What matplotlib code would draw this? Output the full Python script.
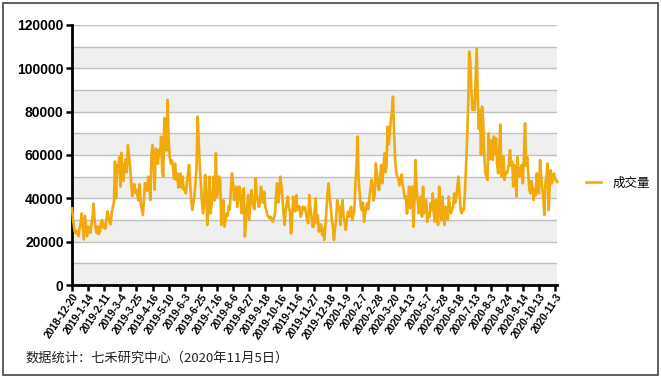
import numpy as np
import matplotlib
matplotlib.use("Agg")
import matplotlib.pyplot as plt
from matplotlib.patches import Rectangle

# daily volume (thousand lots), trading days 2018-12-20 .. 2019-12-31
vol_2019 = [35.4, 30.0, 26.0, 24.0, 25.0, 23.5, 22.5, 26.0, 28.5, 33.0, 27.0, 21.0, 32.0, 27.0, 22.5,
            27.0, 25.0, 24.0, 28.0, 31.0, 37.5, 30.0, 26.0, 24.0, 27.0, 23.5, 25.0, 28.5, 30.0, 26.5,
            28.0, 26.0, 30.5, 34.0, 31.5, 29.0, 28.0, 33.5, 36.0, 38.0, 57.0, 40.0, 55.0, 52.0, 59.0,
            45.4, 61.0, 52.0, 48.0, 56.0, 58.0, 52.0, 64.6, 60.0, 55.0, 48.0, 41.0, 44.0, 46.5, 42.5,
            44.0, 41.0, 39.0, 46.5, 37.7, 35.0, 32.3, 40.0, 47.0, 45.0, 43.5, 50.0, 46.0, 39.2, 60.0,
            64.6, 56.0, 44.0, 63.0, 62.0, 56.0, 62.3, 60.0, 68.5, 52.0, 50.0, 77.0, 71.5, 62.0, 85.4,
            66.9, 59.0, 56.0, 57.5, 54.6, 49.0, 56.0, 48.5, 51.5, 45.0, 47.0, 51.5, 45.0, 50.0, 44.0,
            44.6, 42.3, 47.0, 51.5, 55.4, 47.0, 39.2, 34.6, 38.0, 40.8, 47.0, 54.6, 77.7, 66.9, 54.6,
            46.9, 38.5, 33.1, 37.0, 50.8, 42.3, 27.7, 36.0, 50.0, 33.0, 37.0, 42.0, 50.0, 39.0, 60.8,
            40.8, 44.0, 50.0, 48.5, 27.7, 35.0, 39.2, 26.9, 30.0, 33.0, 32.0, 36.5, 35.0, 44.6, 51.5,
            47.0, 39.2, 42.0, 45.4, 36.1, 40.0, 45.4, 41.5, 33.1, 38.0, 44.6, 22.3, 30.0, 36.0, 41.5,
            30.0, 37.0, 43.8, 39.0, 36.1, 35.0, 49.2, 42.0, 39.0, 36.0, 38.0, 45.4, 41.0, 38.0, 43.0,
            36.0, 34.6, 32.3, 31.5, 30.8, 31.5, 30.0, 29.2, 31.0, 33.0, 40.8, 46.9, 38.0, 42.0, 50.0,
            46.0, 40.8, 33.0, 27.7, 34.0, 37.7, 40.8, 36.0, 33.8, 23.8, 30.0, 40.8, 36.1, 34.0, 41.5,
            34.6, 36.5, 36.1, 31.5, 33.0, 36.1, 35.0, 36.0, 33.1, 30.0, 28.5, 41.5, 36.0, 31.5, 27.0,
            26.9, 35.0, 40.0, 28.5, 32.0, 24.6, 27.0, 28.0, 23.1, 26.0, 20.8, 27.0, 35.0, 42.3, 46.9,
            40.0, 36.1, 30.0, 26.9, 20.8, 26.0, 30.0, 39.2, 36.0, 36.1]

# trading days 2020-1-2 .. 2020-11-5
vol_2020 = [27.7, 34.0, 39.2, 31.5, 29.0,
            25.4, 30.0, 33.8, 31.5, 34.0, 36.1, 30.0, 32.0, 34.6, 46.9, 55.0, 68.5, 48.5, 42.0, 36.1,
            34.6, 38.0, 29.2, 33.0, 36.1, 37.7, 35.0, 40.8, 44.0, 48.5, 45.4, 39.0, 42.3, 56.1, 51.5,
            46.0, 43.8, 50.0, 55.4, 47.0, 52.0, 60.8, 52.0, 55.0, 73.1, 65.0, 70.0, 76.1, 80.0, 86.9,
            70.0, 58.0, 52.0, 50.0, 49.0, 46.0, 48.0, 51.0, 46.0, 43.8, 40.0, 41.0, 32.9, 38.0, 45.4,
            35.4, 40.0, 45.4, 26.9, 38.0, 57.7, 45.0, 39.2, 33.1, 36.1, 40.8, 31.5, 45.4, 33.1, 36.0,
            39.2, 29.2, 33.0, 31.5, 37.7, 34.6, 42.3, 33.0, 29.2, 39.2, 33.0, 27.7, 45.4, 36.1, 30.0,
            40.8, 33.0, 27.7, 36.1, 33.0, 30.0, 40.8, 36.0, 33.1, 35.0, 36.1, 42.3, 38.0, 40.8, 45.4,
            50.0, 42.0, 34.6, 33.1, 35.0, 34.6, 42.3, 54.6, 66.9, 82.3, 107.7, 104.0, 90.0, 80.8, 84.0,
            80.8, 95.0, 109.2, 85.0, 72.0, 80.8, 60.0, 82.3, 76.0, 60.0, 52.0, 50.0, 48.4, 70.0, 58.0,
            59.2, 66.9, 57.7, 68.5, 60.8, 67.7, 56.0, 51.5, 62.0, 74.0, 50.0, 58.0, 59.2, 48.5, 52.0,
            51.5, 53.0, 56.0, 62.3, 55.0, 57.0, 45.4, 55.4, 52.0, 40.8, 59.2, 52.0, 50.0, 54.0, 55.4,
            46.9, 60.0, 74.6, 55.0, 59.0, 52.0, 44.0, 42.3, 48.0, 45.0, 39.2, 44.0, 41.5, 51.5, 45.0,
            42.3, 57.7, 50.0, 45.0, 40.8, 32.3, 46.9, 50.0, 56.1, 34.6, 46.0, 53.0, 46.9, 48.5, 51.5,
            49.0, 48.5, 47.5]

# every 15th trading day is labelled
tick_labels = ["2018-12-20", "2019-1-14", "2019-2-11", "2019-3-4", "2019-3-25", "2019-4-16",
               "2019-5-10", "2019-6-3", "2019-6-25", "2019-7-16", "2019-8-6", "2019-8-27",
               "2019-9-18", "2019-10-16", "2019-11-6", "2019-11-27", "2019-12-18", "2020-1-9",
               "2020-2-7", "2020-2-28", "2020-3-20", "2020-4-13", "2020-5-7", "2020-5-28",
               "2020-6-18", "2020-7-13", "2020-8-3", "2020-8-24", "2020-9-14", "2020-10-13",
               "2020-11-3"]
tick_step = 15

volume = np.array(vol_2019 + vol_2020) * 1000
x = np.arange(len(volume))

fig = plt.figure(figsize=(6.61, 3.78), dpi=100)
ax = fig.add_axes([0.109, 0.246, 0.734, 0.688])

# alternating bands + grid every 10000
for lo in range(0, 120000, 20000):
    ax.axhspan(lo, lo + 10000, color="#efefef", lw=0, zorder=0)
for g in range(10000, 130000, 10000):
    ax.axhline(g, color="#c0c0c0", lw=1.0, zorder=1)

ax.plot(x, volume, color="#f2a90c", lw=1.9, zorder=6, label="成交量", clip_on=False)

ax.set_xlim(0, len(volume) - 1)
ax.set_ylim(0, 120000)
ax.set_yticks(range(0, 120001, 20000))
ax.set_yticklabels([str(v) for v in range(0, 120001, 20000)],
                   fontfamily="Liberation Sans", fontweight="bold", fontsize=10)
ax.set_xticks(np.arange(len(tick_labels)) * tick_step)
ax.set_xticklabels(tick_labels, rotation=56, ha="right", rotation_mode="anchor",
                   fontfamily="Liberation Sans", fontweight="bold", fontsize=7.4)
ax.tick_params(axis="both", direction="out", length=4, width=1.8, color="black", pad=2)
ax.tick_params(axis="x", pad=1)

for s in ["top", "right"]:
    ax.spines[s].set_visible(False)
for s in ["left", "bottom"]:
    ax.spines[s].set_linewidth(2)
    ax.spines[s].set_zorder(5)

leg = fig.legend(loc="center left", bbox_to_anchor=(0.87, 0.515), frameon=False,
                 prop={"family": ["Noto Sans CJK SC"], "size": 9},
                 handlelength=1.2, handletextpad=0.9)

fig.text(0.039, 0.043, "数据统计：七禾研究中心（2020年11月5日）",
         fontfamily=["Noto Sans CJK SC"], fontsize=9.5, color="#222222")

# outer frame
fig.patches.append(Rectangle((0.005, 0.008), 0.99, 0.983, transform=fig.transFigure,
                             fill=False, edgecolor="#444444", lw=1.2))

fig.savefig("out.png", dpi=100)
